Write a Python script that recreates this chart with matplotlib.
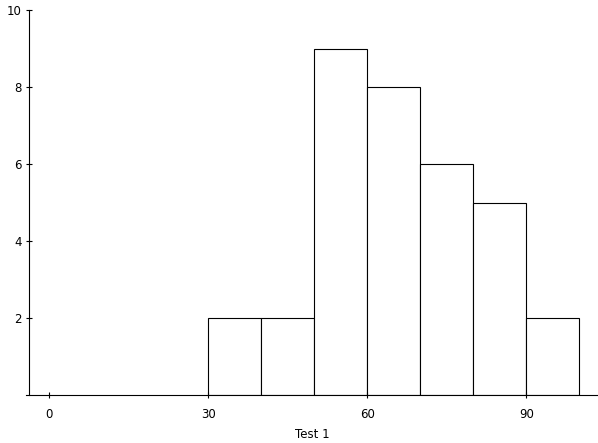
import matplotlib
matplotlib.use('Agg')
import numpy as np
from matplotlib import pyplot as plt

# histogram of Test 1 scores, bins of width 10
bin_edges = [30, 40, 50, 60, 70, 80, 90, 100]
counts = [2, 2, 9, 8, 6, 5, 2]
x_ticks = [0, 30, 60, 90]
y_ticks = [2, 4, 6, 8, 10]
x_label = 'Test 1'

fig = plt.figure(figsize=(5.98, 4.43), dpi=100)
ax = fig.add_axes([26 / 598, 48 / 443, 572 / 598, 385 / 443])

lefts = np.array(bin_edges[:-1])
widths = np.diff(bin_edges)
ax.bar(lefts, counts, width=widths, align='edge', facecolor='white',
       edgecolor='black', linewidth=0.8)

ax.set_xlim(-4.35, 103.5)
ax.set_ylim(0, 10)
ax.spines['left'].set_position(('data', -3.7))
ax.spines['top'].set_visible(False)
ax.spines['right'].set_visible(False)
for s in ('left', 'bottom'):
    ax.spines[s].set_linewidth(0.8)

ax.set_xticks(x_ticks)
ax.set_yticks(y_ticks)
ax.tick_params(direction='inout', length=5, width=0.8, labelsize=8.5)
ax.tick_params(axis='x', pad=7)
ax.tick_params(axis='y', pad=3)
ax.set_xlabel(x_label, fontsize=8.5, labelpad=5)

fig.savefig('out.png', dpi=100)
